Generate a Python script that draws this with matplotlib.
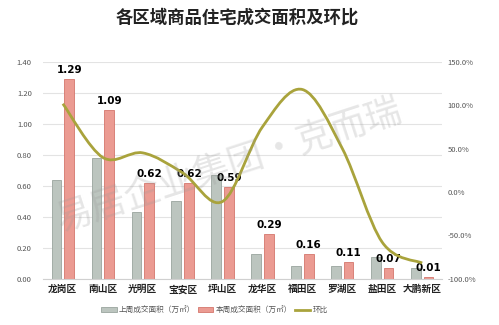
import numpy as np
import matplotlib

matplotlib.use("Agg")
import matplotlib.pyplot as plt
from matplotlib.path import Path
from matplotlib.patches import PathPatch, Patch
from matplotlib.lines import Line2D

plt.rcParams["font.family"] = ["Noto Sans CJK SC", "DejaVu Sans"]

districts = ["龙岗区", "南山区", "光明区", "宝安区", "坪山区",
             "龙华区", "福田区", "罗湖区", "盐田区", "大鹏新区"]
last_week = [0.64, 0.78, 0.43, 0.50, 0.67, 0.16, 0.08, 0.08, 0.14, 0.07]
this_week = [1.29, 1.09, 0.62, 0.62, 0.59, 0.29, 0.16, 0.11, 0.07, 0.01]
mom = [101.6, 39.7, 45.0, 22.0, -11.0, 75.0, 118.0, 50.0, -58.0, -82.0]

gray = "#bcc5bf"
gray_edge = "#9aa59e"
red = "#eb9b92"
red_edge = "#d4766c"
olive = "#a9a33c"


def smooth_path(xs, ys):
    # bezier curve through points, like a spreadsheet "smoothed line"
    pts = np.column_stack([xs, ys])
    n = len(pts)
    verts = [pts[0]]
    codes = [Path.MOVETO]
    for i in range(n - 1):
        p0 = pts[i - 1] if i > 0 else pts[i]
        p1 = pts[i]
        p2 = pts[i + 1]
        p3 = pts[i + 2] if i + 2 < n else pts[i + 1]
        c1 = p1 + (p2 - p0) / 6
        c2 = p2 - (p3 - p1) / 6
        verts += [c1, c2, p2]
        codes += [Path.CURVE4] * 3
    return Path(verts, codes)


fig = plt.figure(figsize=(4.99, 3.25), dpi=100)
ax = fig.add_axes([0.086, 0.1425, 0.80, 0.6675])
ax2 = ax.twinx()

x = np.arange(len(districts))
w = 0.24
ax.bar(x - 0.16, last_week, w, color=gray, edgecolor=gray_edge, linewidth=0.6, zorder=2)
ax.bar(x + 0.16, this_week, w, color=red, edgecolor=red_edge, linewidth=0.6, zorder=2)
for xi, v in zip(x, this_week):
    ax.text(xi + 0.16, v + 0.025, f"{v:.2f}", ha="center", va="bottom",
            fontsize=7.5, fontweight="bold", family="DejaVu Sans")

ax.set_ylim(0, 1.4)
ax.set_yticks(np.arange(0, 1.41, 0.2))
ax.set_yticklabels([f"{t:.2f}" for t in np.arange(0, 1.41, 0.2)])
ax.set_xlim(-0.5, len(districts) - 0.5)
ax.set_xticks(x)
ax.set_xticklabels(districts, fontsize=7, fontweight="bold")
ax.grid(axis="y", color="#e3e3e3", linewidth=0.8, zorder=0)
ax.set_axisbelow(True)

ax2.set_ylim(-100, 150)
ax2.set_yticks(np.arange(-100, 151, 50))
ax2.set_yticklabels([f"{t:.1f}%" for t in np.arange(-100, 151, 50)])
ax2.add_patch(PathPatch(smooth_path(x, mom), facecolor="none",
                        edgecolor=olive, linewidth=2, zorder=3))

for a in (ax, ax2):
    for s in a.spines.values():
        s.set_visible(False)
    a.tick_params(length=0, labelsize=5.5, colors="#555555")
ax.spines["bottom"].set_visible(True)
ax.spines["bottom"].set_color("#d0d0d0")
ax.tick_params(axis="x", colors="#222222", labelsize=7, pad=4)
ax.tick_params(axis="y", pad=8)
ax2.tick_params(axis="y", pad=4)

# watermark
fig.text(0.46, 0.49, "易居企业集团·克而瑞", fontsize=26, color="#9a9a9a",
         alpha=0.25, rotation=18, ha="center", va="center", zorder=10)

fig.text(0.475, 0.945, "各区域商品住宅成交面积及环比", ha="center", va="center",
         fontsize=12.5, fontweight="bold", color="#222222")

handles = [Patch(facecolor=gray, edgecolor=gray_edge, linewidth=0.6),
           Patch(facecolor=red, edgecolor=red_edge, linewidth=0.6),
           Line2D([], [], color=olive, linewidth=2)]
labels = ["上周成交面积（万㎡）", "本周成交面积（万㎡）", "环比"]
fig.legend(handles, labels, loc="center", bbox_to_anchor=(0.43, 0.045), ncol=3,
           frameon=False, fontsize=5.5, handlelength=2.0, handleheight=0.7,
           columnspacing=0.4, handletextpad=0.3, labelcolor="#555555")

fig.savefig("out.png", dpi=100)
